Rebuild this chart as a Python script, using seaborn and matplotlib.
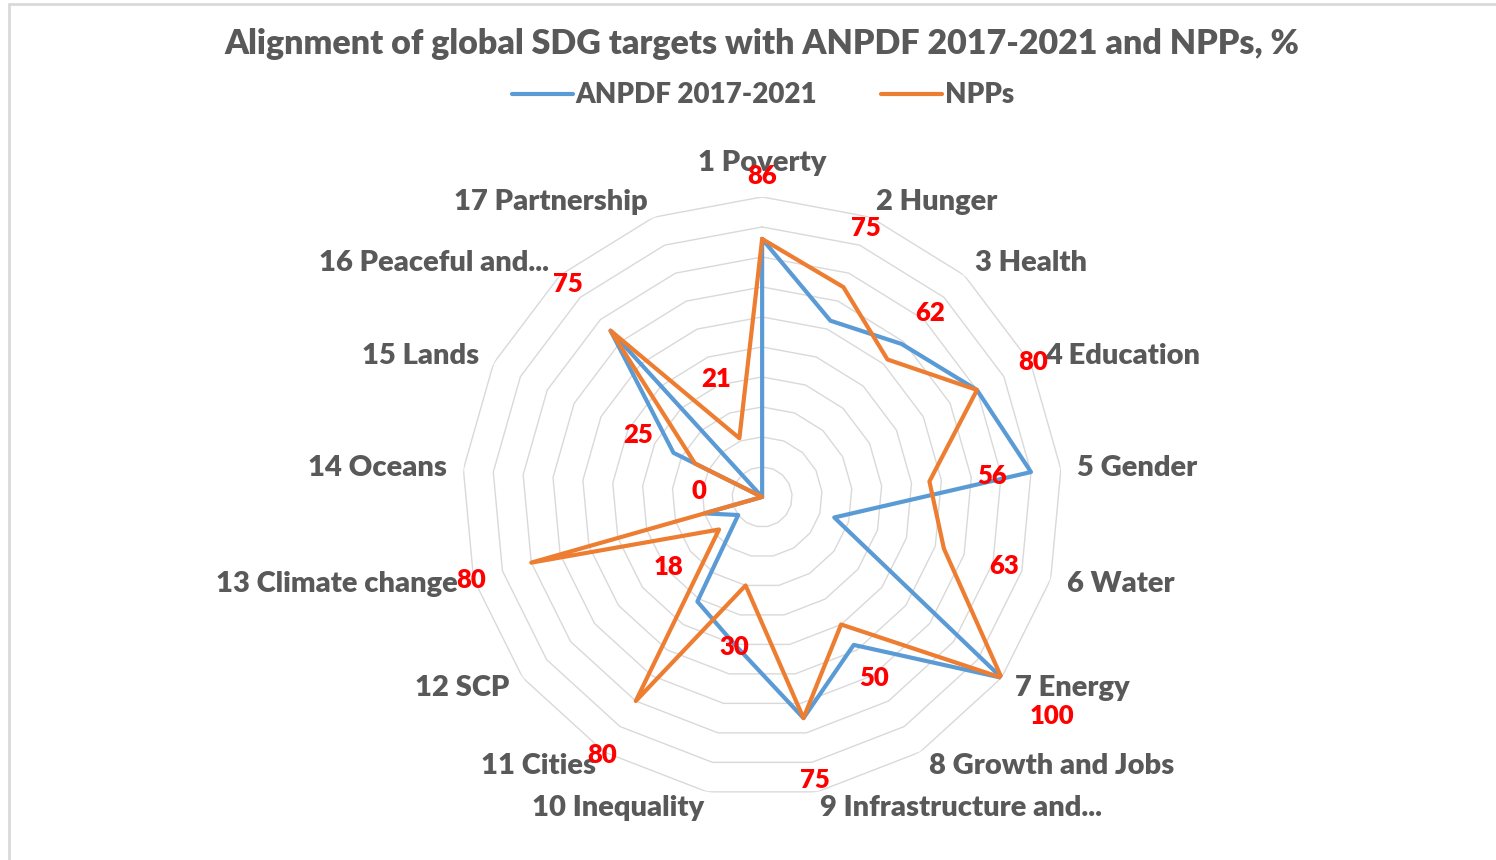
import numpy as np
import pandas as pd
import matplotlib
matplotlib.use('Agg')
import matplotlib.pyplot as plt
import seaborn as sns
from matplotlib.lines import Line2D

categories = ['1 Poverty', '2 Hunger', '3 Health', '4 Education', '5 Gender', '6 Water',
              '7 Energy', '8 Growth and Jobs', '9 Infrastructure and...', '10 Inequality',
              '11 Cities', '12 SCP', '13 Climate change', '14 Oceans', '15 Lands',
              '16 Peaceful and...', '17 Partnership']
anpdf = [86, 63, 69, 80, 90, 25, 100, 58, 75, 50, 41, 10, 20, 0, 33, 75, 0]
npps = [86, 75, 62, 80, 56, 63, 100, 50, 75, 30, 80, 18, 80, 0, 25, 75, 21]
series_names = ['ANPDF 2017-2021', 'NPPs']
grid_levels = [10, 20, 30, 40, 50, 60, 70, 80, 90, 100]

sns.set_theme(style='white')
plt.rcParams['font.family'] = ['Lato', 'DejaVu Sans']

n = len(categories)
theta = np.linspace(0, 2 * np.pi, n, endpoint=False)
theta_closed = np.append(theta, 2 * np.pi)

rows = []
for name, vals in zip(series_names, [anpdf, npps]):
    closed = list(vals) + [vals[0]]
    for t, v in zip(theta_closed, closed):
        rows.append({'theta': t, 'value': v, 'series': name})
df = pd.DataFrame(rows)

fig = plt.figure(figsize=(14.96, 8.6), dpi=100)
ax = fig.add_axes([0.3089, 0.0733, 0.4011, 0.6977], projection='polar')
ax.set_theta_zero_location('N')
ax.set_theta_direction(-1)

# polygon rings only, like the excel radar
grid_col = '#D9D9D9'
for lvl in grid_levels:
    ax.plot(theta_closed, [lvl] * len(theta_closed), color=grid_col, lw=1, zorder=1)

colors = {'ANPDF 2017-2021': '#5B9BD5', 'NPPs': '#ED7D31'}
sns.lineplot(data=df, x='theta', y='value', hue='series', hue_order=series_names,
             palette=colors, sort=False, estimator=None, linewidth=3, ax=ax,
             legend=False, zorder=3)

ax.set_ylim(0, 100)
ax.grid(False)
ax.spines['polar'].set_visible(False)
ax.set_xticks([])
ax.set_yticks([])
ax.set_xlabel('')
ax.set_ylabel('')

# category labels
for t, lab in zip(theta, categories):
    deg = np.degrees(t)
    r = 105.5
    if deg < 1:
        ha, va = 'center', 'bottom'
        r = 107
    elif deg < 180:
        ha, va = 'left', 'center'
    else:
        ha, va = 'right', 'center'
    ax.text(t, r, lab, ha=ha, va=va, fontsize=21, fontweight=800, color='#595959')

# data labels (NPPs)
for t, v in zip(theta, npps):
    ax.text(t, v + 21, str(v), ha='center', va='center', fontsize=18.5,
            fontweight=800, color='#FF0000', zorder=5)

fig.suptitle('Alignment of global SDG targets with ANPDF 2017-2021 and NPPs, %',
             x=0.509, y=0.949, va='center', fontsize=24.5, fontweight=800, color='#595959')

handles = [Line2D([], [], color=colors[s], lw=3) for s in series_names]
fig.legend(handles, series_names, loc='center', bbox_to_anchor=(0.51, 0.889), ncol=2,
           frameon=False, prop={'size': 20, 'weight': 800}, labelcolor='#595959',
           handlelength=2.2, handletextpad=0.1, columnspacing=2.3)

# chart border
fig.add_artist(Line2D([9 / 1496, 9 / 1496], [0, 1 - 4 / 860], color='#D9D9D9', lw=2,
                      transform=fig.transFigure))
fig.add_artist(Line2D([9 / 1496, 1], [1 - 4 / 860, 1 - 4 / 860], color='#D9D9D9', lw=2,
                      transform=fig.transFigure))

plt.savefig('out.png', dpi=100)
